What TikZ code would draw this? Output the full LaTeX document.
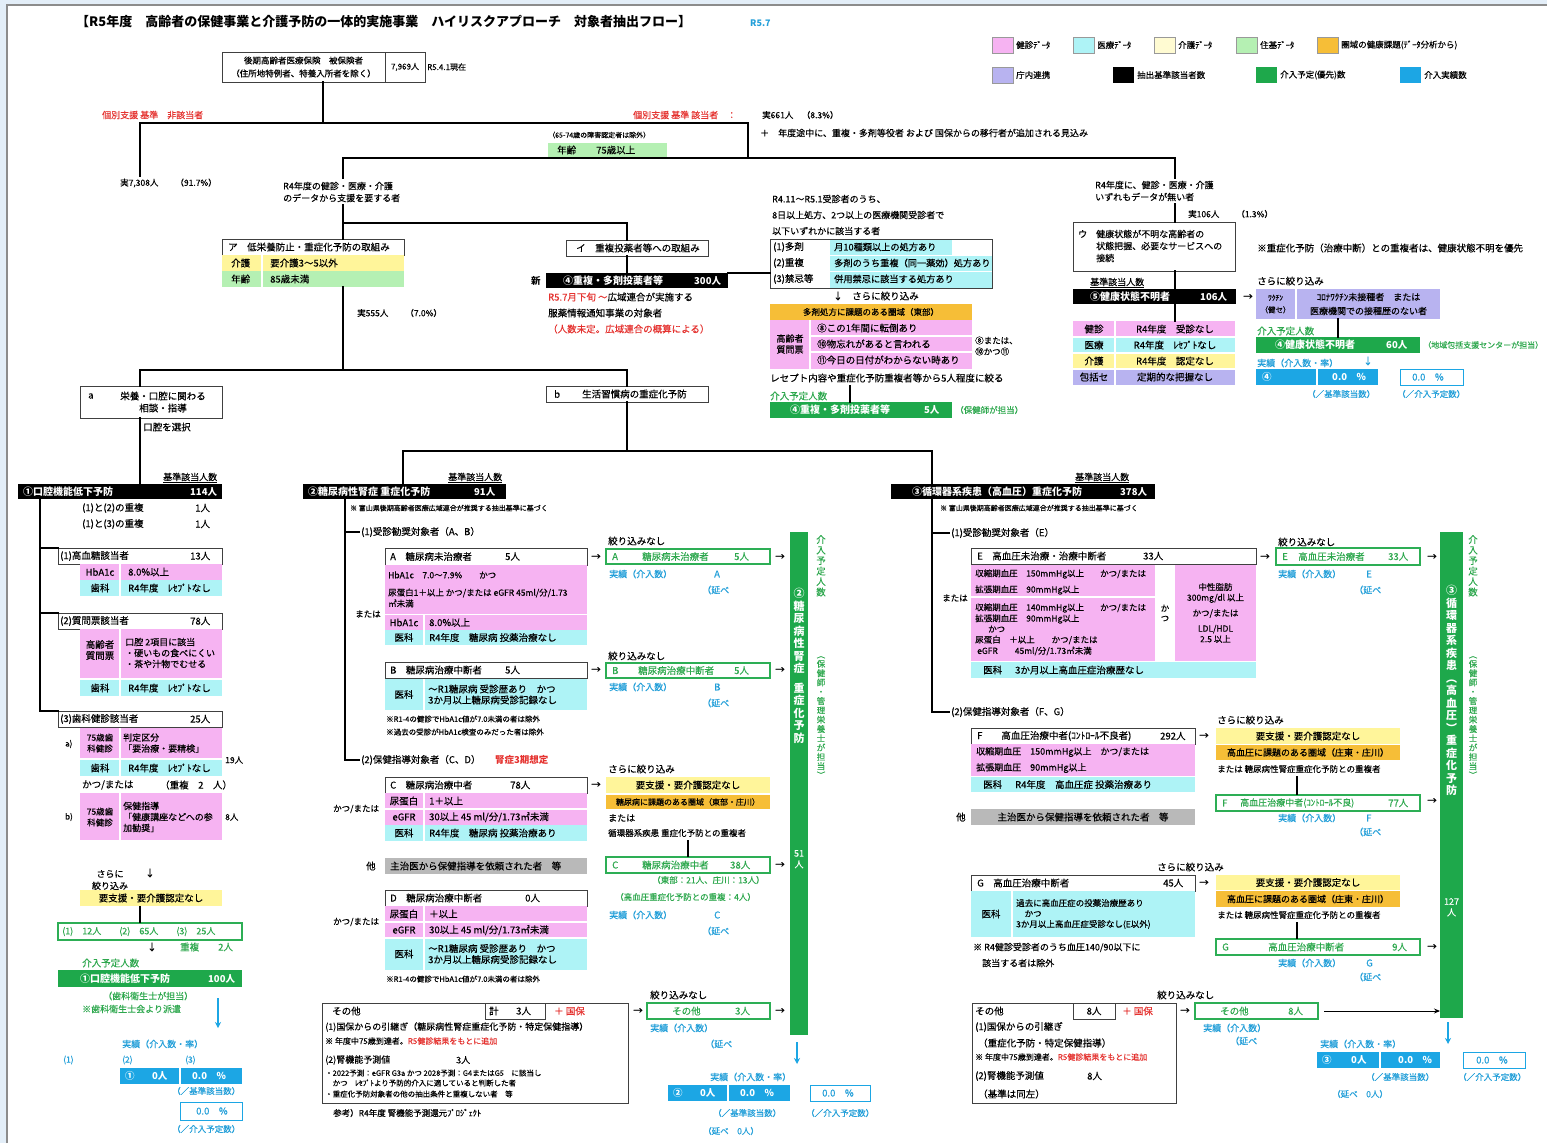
\documentclass[tikz,border=0pt]{standalone}
\usepackage{fontspec}
\setmainfont{Noto Sans CJK JP}[UprightFeatures={FakeBold=0.3}]
\usetikzlibrary{arrows.meta}
\definecolor{pk}{HTML}{F6B3F2}
\definecolor{cy}{HTML}{AEF3F6}
\definecolor{yl}{HTML}{FFF59A}
\definecolor{ylL}{HTML}{FFFBD2}
\definecolor{lg}{HTML}{B5F0B3}
\definecolor{og}{HTML}{F6BE37}
\definecolor{lv}{HTML}{B8B3F0}
\definecolor{gn}{HTML}{1EA84B}
\definecolor{gbd}{HTML}{2DAE55}
\definecolor{gt}{HTML}{2EA84E}
\definecolor{bl}{HTML}{1CA6E4}
\definecolor{bt}{HTML}{239FD9}
\definecolor{rd}{HTML}{E5322F}
\definecolor{gy}{HTML}{B9B9B9}
\definecolor{bgc}{HTML}{E3EEF8}
\newcommand\F[2]{\fontsize{#1}{#2}\selectfont}
\newcounter{tn}
\newcommand\Tx[4][]{\stepcounter{tn}\node[txt,#1] (t\arabic{tn}) at (#2,#3) {#4};}
\newcommand\MyBox[6]{\node[inner sep=0pt,outer sep=0pt,anchor=north west,minimum width={(#4)-(#2)},minimum height={(#5)-(#3)},#6] (#1) at (#2,#3) {};}
\tikzset{
  txt/.style={inner sep=0pt, anchor=west, font=\F{9.5}{11}},
  ln/.style={line width=2.2pt, line cap=rect},
  bx/.style={draw=black!75, line width=0.8pt, fill=white},
  gbx/.style={draw=gbd, line width=1.3pt, fill=white},
  bbx/.style={draw=bl, line width=1pt, fill=white},
  gtx/.style={text=gt},
  btx/.style={text=bt},
  rtx/.style={text=rd},
  wtx/.style={text=white, font=\F{9.5}{11}\bfseries},
  sep/.style={white, line width=1.2pt},
  barr/.style={draw=bl, line width=1.6pt, -{Stealth[length=6pt,width=6pt]}},
  vt/.style={anchor=north, align=center},
}
\begin{document}
\begin{tikzpicture}[x=1pt,y=-1pt]
\useasboundingbox (0,0) rectangle (1547,1143);
\fill[bgc] (0,0) rectangle (1547,1143);
\fill[white] (7,5) rectangle (1547,1143);
\draw[black!45, line width=1.2pt] (7,1143) -- (7,5) -- (1547,5);

% ---------- title & legend
\Tx[font=\F{13}{14}\bfseries]{76}{22}{【R5年度　高齢者の保健事業と介護予防の一体的実施事業　ハイリスクアプローチ　対象者抽出フロー】}
\Tx[font=\F{9}{10}\bfseries,btx]{750}{23}{R5.7}
\MyBox{lg1}{992}{37}{1013}{53}{fill=pk,draw=black!40}
\MyBox{lg2}{1073}{37}{1094}{53}{fill=cy,draw=black!40}
\MyBox{lg3}{1154}{37}{1175}{53}{fill=ylL,draw=black!40}
\MyBox{lg4}{1236}{37}{1257}{53}{fill=lg,draw=black!40}
\MyBox{lg5}{1317}{37}{1338}{53}{fill=og,draw=black!40}
\MyBox{lg6}{992}{67}{1013}{83}{fill=lv,draw=black!40}
\MyBox{lg7}{1113}{67}{1134}{83}{fill=black}
\MyBox{lg8}{1256}{67}{1277}{83}{fill=gn}
\MyBox{lg9}{1400}{67}{1421}{83}{fill=bl}
\Tx[font=\F{8.5}{10}]{1016}{45}{健診ﾃﾞｰﾀ}
\Tx[font=\F{8.5}{10}]{1097}{45}{医療ﾃﾞｰﾀ}
\Tx[font=\F{8.5}{10}]{1178}{45}{介護ﾃﾞｰﾀ}
\Tx[font=\F{8.5}{10}]{1260}{45}{住基ﾃﾞｰﾀ}
\Tx[font=\F{8.5}{10}]{1341}{45}{圏域の健康課題(ﾃﾞｰﾀ分析から)}
\Tx[font=\F{8.5}{10}]{1016}{75}{庁内連携}
\Tx[font=\F{8.5}{10}]{1137}{75}{抽出基準該当者数}
\Tx[font=\F{8.5}{10}]{1280}{75}{介入予定(優先)数}
\Tx[font=\F{8.5}{10}]{1424}{75}{介入実績数}

% ---------- top
\MyBox{top}{222}{52}{385}{82}{bx}
\Tx[anchor=center,align=center,font=\F{8.5}{13}]{303.5}{67}{後期高齢者医療保険　被保険者\\（住所地特例者、特養入所者を除く）}
\MyBox{topn}{385}{52}{425}{82}{bx}
\Tx[anchor=center,font=\F{8}{9}]{405}{67}{7,969人}
\Tx[font=\F{8}{9}]{427}{67}{R5.4.1現在}
\Tx[rtx,font=\F{9}{10}]{102}{115}{個別支援 基準　非該当者}
\Tx[rtx,font=\F{9}{10}]{633}{115}{個別支援 基準 該当者　：}
\Tx[font=\F{8.5}{10}]{762}{115}{実661人　（8.3\%）}
\Tx[font=\F{9}{10}]{760}{133}{＋　年度途中に、重複・多剤等役者 および 国保からの移行者が追加される見込み}
\Tx[font=\F{8.5}{10}]{120}{183}{実7,308人　　（91.7\%）}
\Tx[font=\F{7}{8}]{548}{135}{（65-74歳の障害認定者は除外）}
\MyBox{age75}{548}{143}{667}{157}{fill=lg}
\Tx{557}{150}{年齢}
\Tx{596}{150}{75歳以上}
\Tx[align=left,font=\F{9}{12}]{283}{192}{R4年度の健診・医療・介護\\のデータから支援を要する者}

% ---------- ア
\MyBox{boxA}{222}{239}{404}{255}{bx}
\Tx{228}{247}{ア　低栄養防止・重症化予防の取組み}
\MyBox{aR1}{222}{255}{404}{271}{fill=yl}
\MyBox{aR2}{222}{271}{404}{287}{fill=lg}
\draw[sep] (262,255) -- (262,287);
\Tx{231}{263}{介護}\Tx{270}{263}{要介護3～5以外}
\Tx{231}{279}{年齢}\Tx{270}{279}{85歳未満}
\Tx[font=\F{8.5}{10}]{357}{313}{実555人　　（7.0\%）}

% ---------- イ
\MyBox{boxI}{566}{240}{708}{256}{bx}
\Tx{576}{248}{イ　重複投薬者等への取組み}
\Tx[font=\F{9.5}{11}\bfseries]{531}{281}{新}
\MyBox{blk4}{546}{273}{728}{288}{fill=black}
\Tx[wtx,font=\F{10}{11}\bfseries]{563}{280.5}{④重複・多剤投薬者等}
\Tx[wtx]{694}{280.5}{300人}
\Tx{548}{297}{\textcolor{rd}{R5.7月下旬 ～}広域連合が実施する}
\Tx{548}{313}{服薬情報通知事業の対象者}
\Tx[rtx]{548}{329}{（人数未定。広域連合の概算による）}

% ---------- polypharmacy table
\Tx[font=\F{9}{10}]{772}{199}{R4.11～R5.1受診者のうち、}
\Tx[font=\F{9}{10}]{772}{215}{8日以上処方、2つ以上の医療機関受診者で}
\Tx[font=\F{9}{10}]{772}{231}{以下いずれかに該当する者}
\MyBox{tb0}{770}{239}{992}{288}{bx}
\MyBox{tb1}{830}{240}{952}{255}{fill=cy}
\MyBox{tb2}{830}{256}{992}{271}{fill=cy}
\MyBox{tb3}{830}{272}{992}{287.5}{fill=cy}
\Tx{773}{247}{(1)多剤}\Tx[font=\F{9.2}{10}]{834}{247}{月10種類以上の処方あり}
\Tx{773}{263}{(2)重複}\Tx[font=\F{9.2}{10}]{834}{263}{多剤のうち重複（同一薬効）処方あり}
\Tx{773}{279}{(3)禁忌等}\Tx[font=\F{9.2}{10}]{834}{279}{併用禁忌に該当する処方あり}
\Tx{833}{296}{↓　さらに絞り込み}
\MyBox{og1}{770}{304}{972}{320}{fill=og}
\Tx[anchor=center,font=\F{8.5}{10}]{871}{312}{多剤処方に課題のある圏域（東部）}
\MyBox{pkq}{770}{320}{972}{369}{fill=pk}
\draw[sep] (810,320) -- (810,369);
\draw[sep] (810,336) -- (972,336);
\draw[sep] (810,352) -- (972,352);
\Tx[anchor=center,align=center,font=\F{9}{11}]{790}{344}{高齢者\\質問票}
\Tx{817}{328}{⑧この1年間に転倒あり}
\Tx{817}{344}{⑩物忘れがあると言われる}
\Tx{817}{360}{⑪今日の日付がわからない時あり}
\Tx[align=left,font=\F{8.5}{11}]{975}{346}{⑧または、\\⑩かつ⑪}
\Tx{770}{378}{レセプト内容や重症化予防重複者等から5人程度に絞る}
\Tx[gtx]{770}{396}{介入予定人数}
\MyBox{gn4}{770}{402}{952}{418}{fill=gn}
\Tx[wtx,font=\F{10}{11}\bfseries]{790}{410}{④重複・多剤投薬者等}
\Tx[wtx]{924}{410}{5人}
\Tx[gtx,font=\F{8.5}{10}]{955}{410}{（保健師が担当）}

% ---------- ウ
\Tx[align=left,font=\F{9}{12}]{1095}{191}{R4年度に、健診・医療・介護\\ いずれもデータが無い者}
\Tx[font=\F{8.5}{10}]{1188}{214}{実106人　　（1.3\%）}
\MyBox{boxU}{1073}{222}{1235}{271}{bx}
\Tx[align=left,font=\F{9}{12}]{1078}{246}{ウ　健康状態が不明な高齢者の\\　　状態把握、必要なサービスへの\\　　接続}
\Tx{1257}{248}{※重症化予防（治療中断）との重複者は、健康状態不明を優先}
\Tx[font=\F{9}{10}]{1090}{283}{\underline{基準該当人数}}
\MyBox{blk5}{1073}{289}{1236}{304}{fill=black}
\Tx[wtx,font=\F{10}{11}\bfseries]{1090}{296.5}{⑤健康状態不明者}
\Tx[wtx]{1200}{296.5}{106人}
\Tx{1243}{297}{→}
\MyBox{u1}{1073}{321}{1235}{337}{fill=pk}
\MyBox{u2}{1073}{337}{1235}{353}{fill=cy}
\MyBox{u3}{1073}{353}{1235}{369}{fill=yl}
\MyBox{u4}{1073}{369}{1235}{385}{fill=lv}
\draw[sep] (1115,321) -- (1115,385);
\draw[sep] (1073,337) -- (1235,337);
\draw[sep] (1073,353) -- (1235,353);
\draw[sep] (1073,369) -- (1235,369);
\Tx[anchor=center]{1094}{329}{健診}\Tx[anchor=center]{1175}{329}{R4年度　受診なし}
\Tx[anchor=center]{1094}{345}{医療}\Tx[anchor=center]{1175}{345}{R4年度　ﾚｾﾌﾟﾄなし}
\Tx[anchor=center]{1094}{361}{介護}\Tx[anchor=center]{1175}{361}{R4年度　認定なし}
\Tx[anchor=center]{1094}{377}{包括セ}\Tx[anchor=center]{1175}{377}{定期的な把握なし}
\Tx{1257}{281}{さらに絞り込み}
\MyBox{lvA}{1256}{289}{1295}{319}{fill=lv}
\MyBox{lvB}{1297}{289}{1440}{319}{fill=lv}
\Tx[anchor=center,align=center,font=\F{7.5}{12}]{1275.5}{304}{ﾜｸﾁﾝ\\（健セ）}
\Tx[anchor=center,align=center,font=\F{9}{14}]{1368.5}{304}{ｺﾛﾅﾜｸﾁﾝ未接種者　または\\医療機関での接種歴のない者}
\Tx[gtx]{1257}{331}{介入予定人数}
\MyBox{gn5}{1256}{337}{1420}{353}{fill=gn}
\Tx[wtx,font=\F{10}{11}\bfseries]{1275}{345}{④健康状態不明者}
\Tx[wtx]{1386}{345}{60人}
\Tx[gtx,font=\F{8}{9}]{1423}{345}{（地域包括支援センターが担当）}
\Tx[btx,font=\F{9}{10}]{1257}{363}{実績（介入数・率）}
\Tx[btx]{1363}{361}{↓}
\MyBox{bl4}{1256}{369}{1378}{385}{fill=bl}
\draw[sep] (1317,369) -- (1317,385);
\Tx[wtx]{1262}{377}{④}
\Tx[wtx]{1332}{377}{0.0　\%}
\MyBox{bo4}{1400}{369}{1463}{385}{bbx}
\Tx[btx]{1412}{377}{0.0　\%}
\Tx[btx,font=\F{8.5}{10}]{1307}{394}{（／基準該当数）}
\Tx[btx,font=\F{8.5}{10}]{1397}{394}{（／介入予定数）}

% ---------- a / b
\MyBox{boxa}{80}{386}{222}{418}{bx}
\Tx{88}{396}{a}
\Tx[anchor=center,align=center,font=\F{9.5}{12}]{163}{402}{栄養・口腔に関わる\\相談・指導}
\Tx{143}{427}{口腔を選択}
\MyBox{boxb}{546}{386}{708}{402}{bx}
\Tx{554}{394}{b}
\Tx{582}{394}{生活習慣病の重症化予防}

% ---------- ① section
\Tx[font=\F{9}{10}]{163}{478}{\underline{基準該当人数}}
\MyBox{blk1}{18}{484}{222}{499}{fill=black}
\Tx[wtx,font=\F{10}{11}\bfseries]{23}{491.5}{①口腔機能低下予防}
\Tx[wtx]{190}{491.5}{114人}
\Tx{82}{508}{(1)と(2)の重複}\Tx{195}{508}{1人}
\Tx{82}{524}{(1)と(3)の重複}\Tx{195}{524}{1人}
\MyBox{h11}{58}{548}{222}{564}{bx}
\Tx{60}{556}{(1)高血糖該当者}\Tx{190}{556}{13人}
\MyBox{r11a}{80}{564}{222}{580}{fill=pk}
\MyBox{r11b}{80}{580}{222}{596}{fill=cy}
\draw[sep] (120,564) -- (120,596);
\Tx[anchor=center]{100}{572}{HbA1c}\Tx{128}{572}{8.0\%以上}
\Tx[anchor=center]{100}{588}{歯科}\Tx{128}{588}{R4年度　ﾚｾﾌﾟﾄなし}
\MyBox{h12}{58}{613}{222}{629}{bx}
\Tx{60}{621}{(2)質問票該当者}\Tx{190}{621}{78人}
\MyBox{r12a}{80}{629}{222}{678}{fill=pk}
\MyBox{r12b}{80}{680}{222}{696}{fill=cy}
\draw[sep] (120,629) -- (120,696);
\Tx[anchor=center,align=center,font=\F{9.5}{11}]{100}{650}{高齢者\\質問票}
\Tx[align=left,font=\F{9}{11}]{125}{653}{口腔 2項目に該当\\・硬いもの食べにくい\\・茶や汁物でむせる}
\Tx[anchor=center]{100}{688}{歯科}\Tx{128}{688}{R4年度　ﾚｾﾌﾟﾄなし}
\MyBox{h13}{58}{711}{222}{727}{bx}
\Tx{60}{719}{(3)歯科健診該当者}\Tx{190}{719}{25人}
\Tx[font=\F{8}{9}]{65}{744}{a)}
\MyBox{r13a}{80}{728}{222}{758}{fill=pk}
\MyBox{r13b}{80}{760}{222}{776}{fill=cy}
\draw[sep] (120,728) -- (120,776);
\Tx[anchor=center,align=center,font=\F{8.5}{11}]{100}{743}{75歳歯\\科健診}
\Tx[align=left,font=\F{9}{11}]{123}{743}{判定区分\\「要治療・要精検」}
\Tx[anchor=center]{100}{768}{歯科}\Tx{128}{768}{R4年度　ﾚｾﾌﾟﾄなし}
\Tx[font=\F{8.5}{10}]{225}{760}{19人}
\Tx{82}{785}{かつ/または}\Tx{160}{785}{（重複　2　人）}
\Tx[font=\F{8}{9}]{65}{817}{b)}
\MyBox{r13c}{80}{793}{222}{840}{fill=pk}
\draw[sep] (120,793) -- (120,840);
\Tx[anchor=center,align=center,font=\F{8.5}{11}]{100}{817}{75歳歯\\科健診}
\Tx[align=left,font=\F{9}{11}]{123}{817}{保健指導\\「健康講座などへの参\\加勧奨」}
\Tx[font=\F{8.5}{10}]{225}{817}{8人}
\Tx[anchor=center,align=center,font=\F{9}{12}]{110}{880}{さらに\\絞り込み}
\Tx{145}{873}{↓}
\MyBox{yl1}{80}{890}{222}{906}{fill=yl}
\Tx[anchor=center]{151}{898}{要支援・要介護認定なし}
\MyBox{go1}{58}{923}{242}{940}{gbx}
\Tx[gtx,font=\F{9}{10}]{62}{931.5}{(1)　12人　　(2)　65人　　(3)　25人}
\Tx{147}{947}{↓}
\Tx[gtx]{180}{947}{重複　　2人}
\Tx[gtx]{82}{963}{介入予定人数}
\MyBox{gn1}{58}{970}{242}{987}{fill=gn}
\Tx[wtx,font=\F{10}{11}\bfseries]{80}{978.5}{①口腔機能低下予防}
\Tx[wtx]{208}{978.5}{100人}
\Tx[gtx,font=\F{9}{10}]{103}{996}{（歯科衛生士が担当）}
\Tx[gtx,font=\F{9}{10}]{82}{1009}{※歯科衛生士会より派遣}
\Tx[btx,font=\F{9}{10}]{122}{1044}{実績（介入数・率）}
\Tx[btx,font=\F{8.5}{10}]{63}{1060}{(1)}
\Tx[btx,font=\F{8.5}{10}]{122}{1060}{(2)}
\Tx[btx,font=\F{8.5}{10}]{185}{1060}{(3)}
\MyBox{bl1}{120}{1068}{242}{1084}{fill=bl}
\draw[sep] (180,1068) -- (180,1084);
\Tx[wtx]{125}{1076}{①}\Tx[wtx]{152}{1076}{0人}
\Tx[wtx]{192}{1076}{0.0　\%}
\Tx[btx,font=\F{8.5}{10}]{172}{1091}{（／基準該当数）}
\MyBox{bo1}{180}{1102}{242}{1120}{bbx}
\Tx[btx]{196}{1111}{0.0　\%}
\Tx[btx,font=\F{8.5}{10}]{172}{1129}{（／介入予定数）}

% ---------- ② section
\Tx[font=\F{9}{10}]{448}{478}{\underline{基準該当人数}}
\MyBox{blk2}{303}{484}{506}{499}{fill=black}
\Tx[wtx,font=\F{10}{11}\bfseries]{308}{491.5}{②糖尿病性腎症 重症化予防}
\Tx[wtx]{474}{491.5}{91人}
\Tx[font=\F{7}{8}]{350}{508}{※ 富山県後期高齢者医療広域連合が推奨する抽出基準に基づく}
\Tx{361}{532}{(1)受診勧奨対象者（A、B）}
\MyBox{hA}{385}{548}{587}{565}{bx}
\Tx{390}{556.5}{A　糖尿病未治療者}\Tx{505}{556.5}{5人}
\MyBox{pA}{385}{565}{587}{614}{fill=pk}
\Tx[font=\F{8.5}{10}]{388}{575}{HbA1c　7.0～7.9\%　　かつ}
\Tx[align=left,font=\F{8.5}{11}]{388}{598}{尿蛋白1＋以上 かつ/または eGFR 45ml/分/1.73\\㎡未満}
\MyBox{pA2}{385}{615}{587}{630}{fill=pk}
\MyBox{cA}{385}{630}{587}{645}{fill=cy}
\draw[sep] (424,615) -- (424,645);
\Tx[anchor=center]{404}{622.5}{HbA1c}\Tx{429}{622.5}{8.0\%以上}
\Tx[anchor=center]{404}{637.5}{医科}\Tx{429}{637.5}{R4年度　糖尿病 投薬治療なし}
\Tx[font=\F{8.5}{10}]{355}{614}{または}
\Tx{591}{557}{→}
\Tx{608}{541}{絞り込みなし}
\MyBox{gA}{606}{549}{770}{564}{gbx}
\Tx[gtx]{612}{556.5}{A}\Tx[gtx]{642}{556.5}{糖尿病未治療者}\Tx[gtx]{734}{556.5}{5人}
\Tx{775}{557}{→}
\Tx[btx,font=\F{9}{10}]{609}{574}{実績（介入数）}\Tx[btx]{714}{574}{A}
\Tx[btx,font=\F{9}{10}]{702}{590}{（延べ}
\MyBox{hB}{385}{662}{587}{678}{bx}
\Tx{390}{670}{B　糖尿病治療中断者}\Tx{505}{670}{5人}
\MyBox{cB}{385}{679}{587}{710}{fill=cy}
\draw[sep] (424,679) -- (424,710);
\Tx[anchor=center]{404}{694.5}{医科}
\Tx[align=left,font=\F{9.5}{11}]{428}{694.5}{～R1糖尿病 受診歴あり　かつ\\3か月以上糖尿病受診記録なし}
\Tx[font=\F{7.5}{8}]{386}{719}{※R1-4の健診でHbA1c値が7.0未満の者は除外}
\Tx[font=\F{7.5}{8}]{386}{732}{※過去の受診がHbA1c検査のみだった者は除外}
\Tx{608}{656}{絞り込みなし}
\Tx{591}{670}{→}
\MyBox{gB}{606}{663}{770}{678}{gbx}
\Tx[gtx]{612}{670.5}{B}\Tx[gtx]{638}{670.5}{糖尿病治療中断者}\Tx[gtx]{734}{670.5}{5人}
\Tx{775}{670}{→}
\Tx[btx,font=\F{9}{10}]{609}{687}{実績（介入数）}\Tx[btx]{714}{687}{B}
\Tx[btx,font=\F{9}{10}]{702}{703}{（延べ}
\Tx{361}{760}{(2)保健指導対象者（C、D）}
\Tx[rtx,font=\F{9.5}{11}\bfseries]{495}{760}{腎症3期想定}
\MyBox{hC}{385}{777}{587}{793}{bx}
\Tx{390}{785}{C　糖尿病治療中者}\Tx{510}{785}{78人}
\MyBox{pC1}{385}{793}{587}{809}{fill=pk}
\MyBox{pC2}{385}{809}{587}{825}{fill=pk}
\MyBox{cC}{385}{825}{587}{841}{fill=cy}
\draw[sep] (424,793) -- (424,841);
\draw[sep] (385,809) -- (587,809);
\Tx[anchor=center]{404}{801}{尿蛋白}\Tx{429}{801}{1＋以上}
\Tx[anchor=center]{404}{817}{eGFR}\Tx{429}{817}{30以上 45 ml/分/1.73㎡未満}
\Tx[anchor=center]{404}{833}{医科}\Tx{429}{833}{R4年度　糖尿病 投薬治療あり}
\Tx[font=\F{8.5}{10}]{333}{809}{かつ/または}
\Tx{591}{785}{→}
\Tx{608}{769}{さらに絞り込み}
\MyBox{yC}{606}{777}{770}{793}{fill=yl}
\Tx[anchor=center]{688}{785}{要支援・要介護認定なし}
\MyBox{oC}{606}{795}{770}{809}{fill=og}
\Tx[anchor=center,font=\F{8}{9}]{688}{802}{糖尿病に課題のある圏域（東部・庄川）}
\Tx[font=\F{9}{10}]{608}{818}{または}
\Tx[font=\F{8.5}{10}]{608}{833}{循環器系疾患 重症化予防との重複者}
\MyBox{gC}{606}{857}{770}{873}{gbx}
\Tx[gtx]{612}{865}{C}\Tx[gtx]{642}{865}{糖尿病治療中者}\Tx[gtx]{730}{865}{38人}
\Tx{775}{865}{→}
\Tx[gtx,font=\F{8.5}{10}]{652}{880}{（東部：21人、庄川：13人）}
\Tx[gtx,font=\F{8.5}{10}]{615}{897}{（高血圧重症化予防との重複：4人）}
\Tx[btx,font=\F{9}{10}]{609}{915}{実績（介入数）}\Tx[btx]{714}{915}{C}
\Tx[btx,font=\F{9}{10}]{702}{931}{（延べ}
\Tx{366}{866}{他}
\MyBox{gyC}{385}{858}{587}{874}{fill=gy}
\Tx{390}{866}{主治医から保健指導を依頼された者　等}
\MyBox{hD}{385}{890}{587}{906}{bx}
\Tx{390}{898}{D　糖尿病治療中断者}\Tx{525}{898}{0人}
\MyBox{pD1}{385}{906}{587}{922}{fill=pk}
\MyBox{pD2}{385}{922}{587}{938}{fill=pk}
\MyBox{cD}{385}{938}{587}{970}{fill=cy}
\draw[sep] (424,906) -- (424,970);
\draw[sep] (385,922) -- (587,922);
\draw[sep] (385,938) -- (587,938);
\Tx[anchor=center]{404}{914}{尿蛋白}\Tx{429}{914}{＋以上}
\Tx[anchor=center]{404}{930}{eGFR}\Tx{429}{930}{30以上 45 ml/分/1.73㎡未満}
\Tx[anchor=center]{404}{954}{医科}
\Tx[align=left,font=\F{9.5}{11}]{428}{954}{～R1糖尿病 受診歴あり　かつ\\3か月以上糖尿病受診記録なし}
\Tx[font=\F{8.5}{10}]{333}{922}{かつ/または}
\Tx[font=\F{7.5}{8}]{386}{979}{※R1-4の健診でHbA1c値が7.0未満の者は除外}
\MyBox{oth2}{322}{1003}{628}{1103}{bx}
\Tx{332}{1011}{その他}
\MyBox{kei}{485}{1003}{545}{1019}{bx}
\Tx{489}{1011}{計}\Tx{516}{1011}{3人}
\Tx[rtx]{554}{1011}{＋ 国保}
\Tx[font=\F{9}{10}]{325}{1027}{(1)国保からの引継ぎ（糖尿病性腎症重症化予防・特定保健指導）}
\Tx[font=\F{8}{9}]{325}{1041}{※ 年度中75歳到達者。\textcolor{rd}{R5健診結果をもとに追加}}
\Tx[font=\F{9}{10}]{325}{1060}{(2)腎機能予測値}\Tx[font=\F{9}{10}]{456}{1060}{3人}
\Tx[font=\F{7.5}{8}]{325}{1073}{・2022予測：eGFR G3a かつ 2028予測：G4またはG5　に該当し}
\Tx[font=\F{7.5}{8}]{325}{1083}{　かつ　ﾚｾﾌﾟﾄより予防的介入に適していると判断した者}
\Tx[font=\F{7.5}{8}]{325}{1094}{・重症化予防対象者の他の抽出条件と重複しない者　等}
\Tx[font=\F{8.5}{10}]{333}{1113}{参考）R4年度 腎機能予測還元ﾌﾟﾛｼﾞｪｸﾄ}
\Tx{633}{1011}{→}
\Tx{650}{995}{絞り込みなし}
\MyBox{gO2}{647}{1003}{770}{1019}{gbx}
\Tx[gtx]{672}{1011}{その他}\Tx[gtx]{735}{1011}{3人}
\Tx{775}{1011}{→}
\Tx[btx,font=\F{9}{10}]{650}{1028}{実績（介入数）}
\Tx[btx,font=\F{9}{10}]{705}{1044}{（延べ}
\MyBox{bar2}{790}{532}{808}{1035}{fill=gn}
\Tx[vt,text=white,font=\F{11}{12.5}\bfseries]{799}{588}{②\\糖\\尿\\病\\性\\腎\\症\\[7pt]重\\症\\化\\予\\防}
\Tx[vt,text=white,font=\F{9}{11}]{799}{850}{51\\人}
\Tx[vt,gtx,font=\F{9.5}{10.5}]{821}{535}{介\\入\\予\\定\\人\\数}
\Tx[vt,gtx,font=\F{8.5}{9.3}]{821}{656}{︵\\保\\健\\師\\・\\管\\理\\栄\\養\\士\\が\\担\\当\\︶}
\Tx[btx,font=\F{9}{10}]{710}{1077}{実績（介入数・率）}
\MyBox{bl2}{668}{1085}{790}{1101}{fill=bl}
\draw[sep] (728,1085) -- (728,1101);
\Tx[wtx]{673}{1093}{②}\Tx[wtx]{700}{1093}{0人}
\Tx[wtx]{740}{1093}{0.0　\%}
\MyBox{bo2}{810}{1085}{870}{1101}{bbx}
\Tx[btx]{822}{1093}{0.0　\%}
\Tx[btx,font=\F{8.5}{10}]{713}{1113}{（／基準該当数）}
\Tx[btx,font=\F{8.5}{10}]{806}{1113}{（／介入予定数）}
\Tx[btx,font=\F{8.5}{10}]{703}{1131}{（延べ　0人）}

% ---------- ③ section
\Tx[font=\F{9}{10}]{1075}{478}{\underline{基準該当人数}}
\MyBox{blk3}{891}{484}{1155}{499}{fill=black}
\Tx[wtx,font=\F{10}{11}\bfseries]{912}{491.5}{③循環器系疾患（高血圧）重症化予防}
\Tx[wtx]{1120}{491.5}{378人}
\Tx[font=\F{7}{8}]{940}{508}{※ 富山県後期高齢者医療広域連合が推奨する抽出基準に基づく}
\Tx{951}{533}{(1)受診勧奨対象者（E）}
\MyBox{hE}{971}{548}{1256}{564}{bx}
\Tx{977}{556}{E　高血圧未治療・治療中断者}\Tx{1143}{556}{33人}
\MyBox{pE1}{971}{565}{1155}{596}{fill=pk}
\MyBox{pE2}{971}{598}{1155}{661}{fill=pk}
\MyBox{pE3}{1175}{565}{1256}{661}{fill=pk}
\MyBox{cE}{971}{662}{1256}{678}{fill=cy}
\Tx[font=\F{8.5}{10}]{975}{574}{収縮期血圧　150mmHg以上}\Tx[font=\F{8.5}{10}]{1100}{574}{かつ/または}
\Tx[font=\F{8.5}{10}]{975}{590}{拡張期血圧　90mmHg以上}
\Tx[font=\F{8.5}{10}]{975}{608}{収縮期血圧　140mmHg以上}\Tx[font=\F{8.5}{10}]{1100}{608}{かつ/または}
\Tx[font=\F{8.5}{10}]{975}{619}{拡張期血圧　90mmHg以上}
\Tx[font=\F{8.5}{10}]{988}{629}{かつ}
\Tx[font=\F{8.5}{10}]{975}{640}{尿蛋白　＋以上　　かつ/または}
\Tx[font=\F{8.5}{10}]{977}{651}{eGFR　　45ml/分/1.73㎡未満}
\Tx[anchor=center,align=center,font=\F{8.5}{10}]{1165}{613}{か\\つ}
\Tx[anchor=center,align=center,font=\F{8.5}{10.5}]{1215.5}{613}{中性脂肪\\300mg/dl 以上\\[5pt]かつ/または\\[5pt]LDL/HDL\\2.5 以上}
\Tx{983}{670}{医科}\Tx{1015}{670}{3か月以上高血圧症治療歴なし}
\Tx[font=\F{8.5}{10}]{942}{598}{または}
\Tx{1260}{557}{→}
\Tx{1278}{542}{絞り込みなし}
\MyBox{gE}{1276}{548}{1420}{565}{gbx}
\Tx[gtx]{1282}{556.5}{E}\Tx[gtx]{1298}{556.5}{高血圧未治療者}\Tx[gtx]{1388}{556.5}{33人}
\Tx{1427}{557}{→}
\Tx[btx,font=\F{9}{10}]{1278}{574}{実績（介入数）}\Tx[btx]{1366}{574}{E}
\Tx[btx,font=\F{9}{10}]{1354}{590}{（延べ}
\Tx{951}{712}{(2)保健指導対象者（F、G）}
\MyBox{hF}{971}{728}{1195}{744}{bx}
\Tx{977}{736}{F　　高血圧治療中者(ｺﾝﾄﾛｰﾙ不良者)}\Tx{1160}{736}{292人}
\MyBox{pF1}{971}{744}{1195}{760}{fill=pk}
\MyBox{pF2}{971}{760}{1195}{776}{fill=pk}
\MyBox{cF}{971}{777}{1195}{792}{fill=cy}
\Tx[font=\F{9}{10}]{976}{752}{収縮期血圧　150mmHg以上　かつ/または}
\Tx[font=\F{9}{10}]{976}{768}{拡張期血圧　90mmHg以上}
\Tx{983}{784.5}{医科}\Tx{1015}{784.5}{R4年度　高血圧症 投薬治療あり}
\Tx{1199}{736}{→}
\Tx{1217}{720}{さらに絞り込み}
\MyBox{yF}{1216}{728}{1400}{744}{fill=yl}
\Tx[anchor=center]{1308}{736}{要支援・要介護認定なし}
\MyBox{oF}{1216}{745}{1400}{760}{fill=og}
\Tx[anchor=center,font=\F{9}{10}]{1308}{752.5}{高血圧に課題のある圏域（庄東・庄川）}
\Tx[font=\F{8.5}{10}]{1217}{769}{または 糖尿病性腎症重症化予防との重複者}
\MyBox{gF}{1216}{795}{1420}{811}{gbx}
\Tx[gtx]{1222}{803}{F}\Tx[gtx,font=\F{9}{10}]{1240}{803}{高血圧治療中者(ｺﾝﾄﾛｰﾙ不良)}\Tx[gtx]{1388}{803}{77人}
\Tx{1427}{801}{→}
\Tx[btx,font=\F{9}{10}]{1278}{818}{実績（介入数）}\Tx[btx]{1366}{818}{F}
\Tx[btx,font=\F{9}{10}]{1354}{832}{（延べ}
\Tx{956}{817}{他}
\MyBox{gyF}{971}{809}{1195}{825}{fill=gy}
\Tx[anchor=center]{1083}{817}{主治医から保健指導を依頼された者　等}
\MyBox{hG}{971}{875}{1195}{891}{bx}
\Tx{977}{883}{G　高血圧治療中断者}\Tx{1163}{883}{45人}
\MyBox{cG}{971}{891}{1195}{937}{fill=cy}
\draw[sep] (1012,891) -- (1012,937);
\Tx[anchor=center]{991}{914}{医科}
\Tx[align=left,font=\F{8.5}{10.5}]{1016}{914}{過去に高血圧症の投薬治療歴あり\\　かつ\\3か月以上高血圧症受診なし(E以外)}
\Tx[align=left,font=\F{9}{16}]{973}{955}{※ R4健診受診者のうち血圧140/90以下に\\　該当する者は除外}
\Tx{1157}{867}{さらに絞り込み}
\Tx{1199}{883}{→}
\MyBox{yG}{1216}{875}{1400}{890}{fill=yl}
\Tx[anchor=center]{1308}{882.5}{要支援・要介護認定なし}
\MyBox{oG}{1216}{891}{1400}{907}{fill=og}
\Tx[anchor=center,font=\F{9}{10}]{1308}{899}{高血圧に課題のある圏域（庄東・庄川）}
\Tx[font=\F{8.5}{10}]{1217}{915}{または 糖尿病性腎症重症化予防との重複者}
\MyBox{gG}{1216}{939}{1420}{955}{gbx}
\Tx[gtx]{1222}{947}{G}\Tx[gtx]{1268}{947}{高血圧治療中断者}\Tx[gtx]{1392}{947}{9人}
\Tx{1427}{947}{→}
\Tx[btx,font=\F{9}{10}]{1278}{963}{実績（介入数）}\Tx[btx]{1366}{963}{G}
\Tx[btx,font=\F{9}{10}]{1354}{977}{（延べ}
\MyBox{oth3}{972}{1003}{1176}{1103}{bx}
\Tx{975}{1011}{その他}
\MyBox{n8}{1073}{1003}{1115}{1019}{bx}
\Tx[anchor=center]{1094}{1011}{8人}
\Tx[rtx]{1122}{1011}{＋ 国保}
\Tx{975}{1027}{(1)国保からの引継ぎ}
\Tx{978}{1043}{（重症化予防・特定保健指導）}
\Tx[font=\F{8}{9}]{975}{1057}{※ 年度中75歳到達者。\textcolor{rd}{R5健診結果をもとに追加}}
\Tx{975}{1076}{(2)腎機能予測値}\Tx{1087}{1076}{8人}
\Tx{978}{1094}{（基準は同左）}
\Tx{1157}{995}{絞り込みなし}
\Tx{1180}{1011}{→}
\MyBox{gO3}{1195}{1003}{1318}{1019}{gbx}
\Tx[gtx]{1220}{1011}{その他}\Tx[gtx]{1288}{1011}{8人}
\Tx[btx,font=\F{9}{10}]{1203}{1028}{実績（介入数）}
\Tx[btx,font=\F{9}{10}]{1230}{1041}{（延べ}
\MyBox{bar3}{1440}{532}{1463}{1018}{fill=gn}
\draw[line width=0.9pt,-{Stealth[length=6pt,width=5pt]}] ([xshift=6pt]gO3.east) -- (gO3.east -| bar3.west);
\Tx[vt,text=white,font=\F{11}{12.5}\bfseries]{1451.5}{585}{③\\循\\環\\器\\系\\疾\\患\\︵\\高\\血\\圧\\︶\\重\\症\\化\\予\\防}
\Tx[vt,text=white,font=\F{9}{11}]{1451.5}{898}{127\\人}
\Tx[vt,gtx,font=\F{9.5}{10.5}]{1473}{535}{介\\入\\予\\定\\人\\数}
\Tx[vt,gtx,font=\F{8.5}{9.3}]{1473}{656}{︵\\保\\健\\師\\・\\管\\理\\栄\\養\\士\\が\\担\\当\\︶}
\Tx[btx,font=\F{9}{10}]{1320}{1044}{実績（介入数・率）}
\MyBox{bl3}{1317}{1052}{1440}{1068}{fill=bl}
\draw[sep] (1380,1052) -- (1380,1068);
\Tx[wtx]{1322}{1060}{③}\Tx[wtx]{1351}{1060}{0人}
\Tx[wtx]{1398}{1060}{0.0　\%}
\MyBox{bo3}{1463}{1052}{1525}{1068}{bbx}
\Tx[btx]{1476}{1060}{0.0　\%}
\Tx[btx,font=\F{8.5}{10}]{1366}{1077}{（／基準該当数）}
\Tx[btx,font=\F{8.5}{10}]{1458}{1077}{（／介入予定数）}
\Tx[btx,font=\F{8.5}{10}]{1332}{1094}{（延べ　0人）}

% ---------- connectors (tree)
\foreach \n/\x/\y in {p1/323/82,p2/323/123,p3/140/123,p4/140/176,p5/748/123,p6/748/158,
  p7/343/158,p8/343/178,p9/1175/158,p10/1175/178,p11/343/205,p12/343/239,p13/343/223,
  p14/627/223,p15/627/240,p16/627/256,p17/627/273,p18/728/273,p19/770/273,p20/343/287,
  p21/343/370,p22/140/370,p23/627/370,p24/140/386,p25/627/386,p26/140/418,p27/140/484,
  p28/627/402,p29/627/451,p30/403/451,p31/932/451,p32/403/484,p33/932/484,
  p34/1175/204,p35/1175/222,p36/1175/271,p37/1175/289,p38/1175/304,p39/1175/321,
  p40/850/386,p41/850/402,p42/1338/319,p43/1338/337,
  p44/40/499,p45/40/711,p46/58/711,p47/40/548,p48/58/548,p49/40/613,p50/58/613,
  p51/345/499,p52/345/760,p53/359/760,p54/345/532,p55/359/532,
  p56/932/499,p57/932/712,p58/949/712,p59/932/533,p60/949/533,
  p61/140/906,p62/140/923,p63/688/840,p64/688/857,p65/1297/776,p66/1297/795,p67/1297/922,p68/1297/939,
  q1/218/998,q2/218/1028,q3/797/1042,q4/797/1064,q5/1448/1022,q6/1448/1044}
  {\coordinate (\n) at (\x,\y);}
\draw[ln] (p1) -- (p2);
\draw[ln] (p4) -- (p3) -- (p5) -- (p6);
\draw[ln] (p8) -- (p7) -- (p9) -- (p10);
\draw[ln] (p11) -- (p12);
\draw[ln] (p13) -- (p14) -- (p15);
\draw[ln] (p16) -- (p17);
\draw[ln] (p18) -- (p19);
\draw[ln] (p20) -- (p21);
\draw[ln] (p24) -- (p22) -- (p23) -- (p25);
\draw[ln] (p26) -- (p27);
\draw[ln] (p28) -- (p29);
\draw[ln] (p32) -- (p30) -- (p31) -- (p33);
\draw[ln] (p34) -- (p35);
\draw[ln] (p36) -- (p37);
\draw[ln] (p38) -- (p39);
\draw[ln] (p40) -- (p41);
\draw[ln] (p42) -- (p43);
\draw[ln] (p44) -- (p45) -- (p46);
\draw[ln] (p47) -- (p48);
\draw[ln] (p49) -- (p50);
\draw[ln] (p51) -- (p52) -- (p53);
\draw[ln] (p54) -- (p55);
\draw[ln] (p56) -- (p57) -- (p58);
\draw[ln] (p59) -- (p60);
\draw[line width=2pt] (p61) -- (p62);
\draw[line width=2pt] (p63) -- (p64);
\draw[line width=2pt] (p65) -- (p66);
\draw[line width=2pt] (p67) -- (p68);
\draw[barr] (q1) -- (q2);
\draw[barr] (q3) -- (q4);
\draw[barr] (q5) -- (q6);
\end{tikzpicture}
\end{document}
